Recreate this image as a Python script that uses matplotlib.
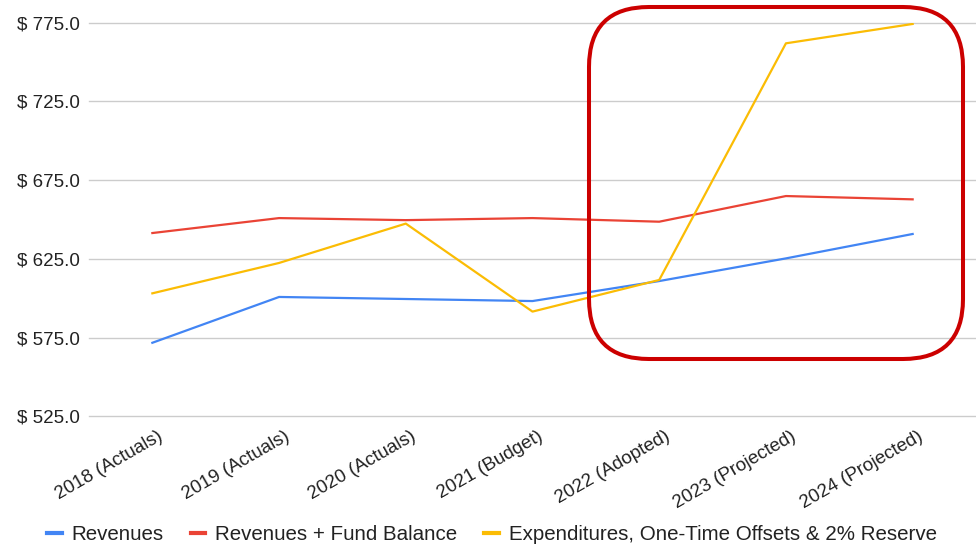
import matplotlib.pyplot as plt
from matplotlib.patches import FancyBboxPatch
from matplotlib.transforms import IdentityTransform, ScaledTranslation

plt.rcParams['font.family'] = ['Liberation Sans', 'DejaVu Sans']

# datos
anios = ['2018 (Actuals)', '2019 (Actuals)', '2020 (Actuals)', '2021 (Budget)',
         '2022 (Adopted)', '2023 (Projected)', '2024 (Projected)']
ingresos = [571.7, 600.8, 599.5, 598.2, 610.9, 625.3, 640.8]
ingresos_fondo = [641.4, 650.9, 649.6, 650.9, 648.6, 664.9, 662.8]
gastos = [603.1, 622.4, 647.4, 591.5, 611.6, 761.9, 774.2]
ticks_y = [525, 575, 625, 675, 725, 775]

fig = plt.figure(figsize=(9.76, 5.44), dpi=100)
ax = fig.add_axes([89 / 976, 1 - 416.3 / 544, 1 - 89 / 976, (416.3 - 22.7) / 544])

x = range(len(anios))
ax.plot(x, ingresos, color='#4285F4', lw=1.6, label='Revenues')
ax.plot(x, ingresos_fondo, color='#EA4335', lw=1.6, label='Revenues + Fund Balance')
ax.plot(x, gastos, color='#FBBC04', lw=1.6, label='Expenditures, One-Time Offsets & 2% Reserve')

ax.set_xlim(-0.5, len(anios) - 0.5)
ax.set_ylim(525, 775)
ax.set_yticks(ticks_y)
ax.set_yticklabels(['$ %.1f' % v for v in ticks_y], fontsize=13.5, color='#222222')
ax.set_xticks(list(x))
ax.set_xticklabels(anios, rotation=30, ha='right', va='center', rotation_mode='anchor',
                   fontsize=13.5, color='#222222')
ax.tick_params(axis='y', length=0, pad=6.5)
ax.tick_params(axis='x', length=0, pad=13.5)
desplaza = ScaledTranslation(9 / 100, 0, fig.dpi_scale_trans)
for t in ax.get_xticklabels():
    t.set_transform(t.get_transform() + desplaza)
ax.grid(axis='y', color='#cccccc', lw=1)
for g in ax.get_ygridlines():
    g.set_clip_on(False)
ax.set_axisbelow(True)
for s in ax.spines.values():
    s.set_visible(False)

leg = fig.legend(loc='center', bbox_to_anchor=(492 / 976, 1 - 535 / 544), ncol=3, frameon=False,
                 fontsize=14.8, handlelength=0.7, handletextpad=0.5, columnspacing=1.3)
for h in leg.get_lines():
    h.set_linewidth(3)
for t in leg.get_texts():
    t.set_color('#222222')

# recuadro rojo redondeado (en pixeles)
caja = FancyBboxPatch((589 + 60, 544 - 359 + 60), 374 - 120, 352 - 120,
                      boxstyle='round,pad=60', transform=IdentityTransform(),
                      fill=False, edgecolor='#CC0000', lw=2.9)
fig.patches.append(caja)

fig.savefig('out.png', dpi=100)
